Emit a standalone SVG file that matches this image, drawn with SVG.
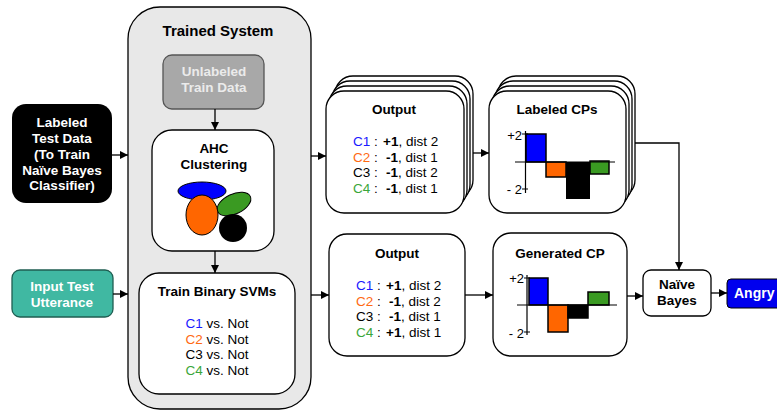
<svg xmlns="http://www.w3.org/2000/svg" width="777" height="412" viewBox="0 0 777 412">
<style>
text{font-family:"Liberation Sans",Arial,sans-serif;font-size:13.5px;fill:#000}
.b{font-weight:bold}
.m{text-anchor:middle}
.box{fill:#fff;stroke:#000;stroke-width:1.3}
.bar{stroke:#000;stroke-width:1.5}
.ax{stroke:#000;stroke-width:1.2;fill:none}
.c1{fill:#1a1aff}.c2{fill:#ff6a13}.c4{fill:#3aa63a}
.con{stroke:#000;stroke-width:1.3;fill:none;marker-end:url(#ah)}
.w{fill:#fff}
</style>
<defs>
<marker id="ah" viewBox="0 0 10 10" refX="10" refY="5" markerWidth="8" markerHeight="8" markerUnits="userSpaceOnUse" orient="auto"><path d="M0,0L10,5L0,10z" fill="#000"/></marker>
</defs>
<rect width="777" height="412" fill="#fff"/>

<g id="trained-system">
<rect x="128" y="7" width="183" height="402" rx="32" fill="#e8e8e8" stroke="#000" stroke-width="1.3"/>
<text x="218" y="35.5" class="b m" style="font-size:15px">Trained System</text>
</g>

<g id="unlabeled">
<rect x="163" y="55" width="101" height="54" rx="9" fill="#a8a8a8" stroke="#555" stroke-width="1.3"/>
<text x="214" y="76" class="b m" style="fill:#ebebeb">Unlabeled</text>
<text x="214" y="92" class="b m" style="fill:#ebebeb">Train Data</text>
</g>

<g id="ahc">
<rect x="152" y="130" width="122" height="121" rx="20" class="box"/>
<text x="214" y="153" class="b m">AHC</text>
<text x="214" y="168.5" class="b m">Clustering</text>
<ellipse cx="202" cy="191" rx="24" ry="9" fill="#0000ff" stroke="#000" stroke-width="1"/>
<ellipse cx="234" cy="204" rx="18" ry="10" transform="rotate(-25 234 204)" fill="#3a9a22" stroke="#000" stroke-width="1"/>
<ellipse cx="202" cy="215" rx="16" ry="20" fill="#ff6600" stroke="#000" stroke-width="1"/>
<circle cx="233" cy="228" r="14" fill="#000"/>
</g>

<g id="svms">
<rect x="139" y="273" width="156" height="121" rx="20" class="box"/>
<text x="217" y="296" class="b m">Train Binary SVMs</text>
<text x="217" y="328" class="m"><tspan class="c1">C1</tspan> vs. Not</text>
<text x="217" y="344" class="m"><tspan class="c2">C2</tspan> vs. Not</text>
<text x="217" y="359" class="m">C3 vs. Not</text>
<text x="217" y="375" class="m"><tspan class="c4">C4</tspan> vs. Not</text>
</g>

<g id="labeled-test">
<rect x="12" y="104" width="100" height="99" rx="14" fill="#000"/>
<text x="62" y="127" class="b m w">Labeled</text>
<text x="62" y="143" class="b m w">Test Data</text>
<text x="62" y="159" class="b m w">(To Train</text>
<text x="62" y="175" class="b m w">Naïve Bayes</text>
<text x="62" y="190" class="b m w">Classifier)</text>
</g>

<g id="input-test">
<rect x="12" y="270" width="101" height="47" rx="8" fill="#40b8a2" stroke="#1f5e52" stroke-width="1.3"/>
<text x="62" y="290.5" class="b m w">Input Test</text>
<text x="62" y="306.5" class="b m w">Utterance</text>
</g>

<g id="output1">
<rect x="335" y="76" width="138" height="122" rx="18" class="box"/>
<rect x="332" y="81" width="138" height="122" rx="18" class="box"/>
<rect x="329" y="86" width="138" height="122" rx="18" class="box"/>
<rect x="326" y="91" width="138" height="122" rx="18" class="box"/>
<text x="394" y="114" class="b m">Output</text>
<text x="353" y="146"><tspan class="c1">C1</tspan> : <tspan x="383" class="b">+1</tspan>, dist 2</text>
<text x="353" y="162"><tspan class="c2">C2</tspan> : <tspan x="386" class="b">-1</tspan>, dist 1</text>
<text x="353" y="177">C3 : <tspan x="386" class="b">-1</tspan>, dist 2</text>
<text x="353" y="193"><tspan class="c4">C4</tspan> : <tspan x="386" class="b">-1</tspan>, dist 1</text>
</g>

<g id="labeled-cps">
<rect x="498" y="76" width="137" height="122" rx="18" class="box"/>
<rect x="495" y="81" width="137" height="122" rx="18" class="box"/>
<rect x="492" y="86" width="137" height="122" rx="18" class="box"/>
<rect x="489" y="91" width="137" height="122" rx="18" class="box"/>
<text x="557" y="114" class="b m">Labeled CPs</text>
<rect x="526" y="134" width="20" height="28" fill="#0000ff" class="bar"/>
<rect x="546" y="162" width="20" height="15" fill="#ff6600" class="bar"/>
<rect x="566" y="162" width="24" height="37" fill="#000"/>
<rect x="590" y="161" width="19" height="13" fill="#3a9a22" class="bar"/>
<path d="M515,162H615M525.5,131V193M522,134H528M522,189H528" class="ax"/>
<text x="522" y="139.5" style="font-size:13px;text-anchor:end">+2</text>
<text x="522" y="194" style="font-size:13px;text-anchor:end">- 2</text>
</g>

<g id="output2">
<rect x="329" y="234" width="136" height="122" rx="18" class="box"/>
<text x="397" y="258" class="b m">Output</text>
<text x="356" y="290"><tspan class="c1">C1</tspan> : <tspan x="386" class="b">+1</tspan>, dist 2</text>
<text x="356" y="306"><tspan class="c2">C2</tspan> : <tspan x="389" class="b">-1</tspan>, dist 2</text>
<text x="356" y="321">C3 : <tspan x="389" class="b">-1</tspan>, dist 1</text>
<text x="356" y="337"><tspan class="c4">C4</tspan> : <tspan x="386" class="b">+1</tspan>, dist 1</text>
</g>

<g id="generated-cp">
<rect x="493" y="233" width="134" height="123" rx="18" class="box"/>
<text x="560" y="258" class="b m">Generated CP</text>
<rect x="529" y="278" width="19" height="27" fill="#0000ff" class="bar"/>
<rect x="548" y="305" width="20" height="27" fill="#ff6600" class="bar"/>
<rect x="568" y="305" width="20" height="13" fill="#000" class="bar"/>
<rect x="588" y="292" width="21" height="13" fill="#3a9a22" class="bar"/>
<path d="M517,305H617M527,275V335M524,278H530M524,332H530" class="ax"/>
<text x="524" y="283" style="font-size:13px;text-anchor:end">+2</text>
<text x="524" y="338" style="font-size:13px;text-anchor:end">- 2</text>
</g>

<g id="naive-bayes">
<rect x="643" y="270" width="68" height="46" rx="8" class="box"/>
<text x="677" y="289" class="b m">Naïve</text>
<text x="677" y="305" class="b m">Bayes</text>
</g>

<g id="angry">
<rect x="727" y="279" width="56" height="29" rx="4" fill="#0000ee" stroke="#000" stroke-width="1"/>
<text x="734" y="298" class="b w" style="font-size:14px">Angry</text>
</g>

<g id="connectors">
<path d="M112,155H128" class="con"/>
<path d="M113,294H128" class="con"/>
<path d="M215,109V130" class="con"/>
<path d="M215,251V273" class="con"/>
<path d="M311,156H326" class="con"/>
<path d="M311,295H329" class="con"/>
<path d="M473,153H489" class="con"/>
<path d="M465,295H493" class="con"/>
<path d="M635,143H679V270" class="con"/>
<path d="M627,296H643" class="con"/>
<path d="M711,293H727" class="con"/>
</g>
</svg>
